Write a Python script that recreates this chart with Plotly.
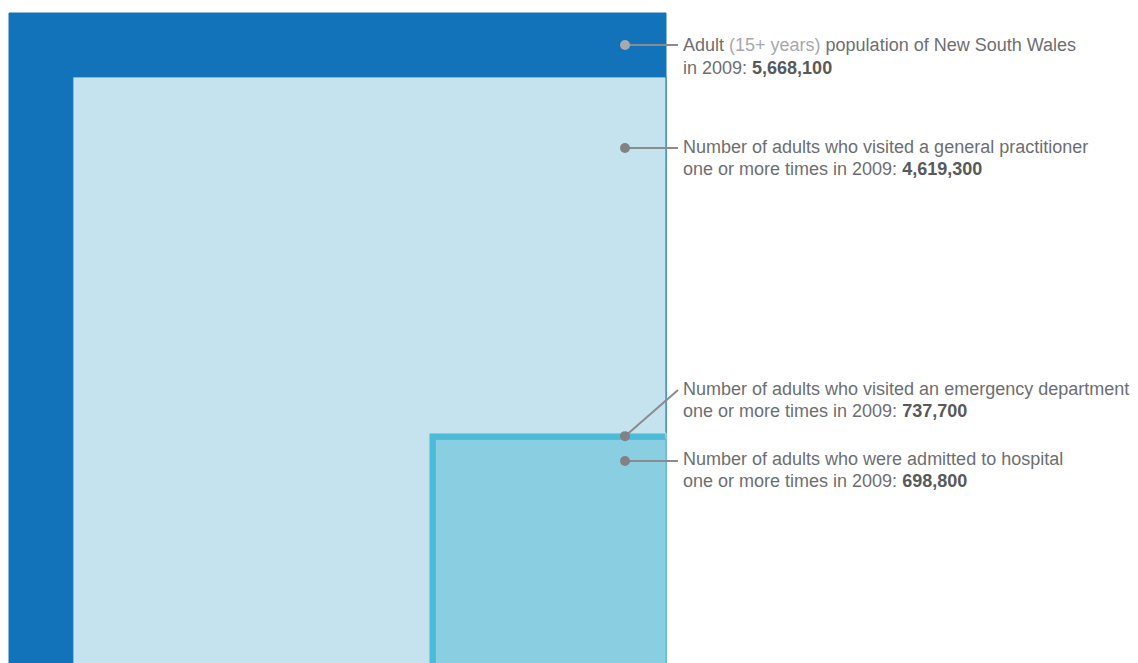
import math
import plotly.graph_objects as go

# Adult population counts, New South Wales, 2009
labels = [
    "Adult population",
    "Visited a general practitioner",
    "Visited an emergency department",
    "Admitted to hospital",
]
values = [5668100, 4619300, 737700, 698800]
fill_colors = ["#1373ba", "#c4e3ee", "#4cbbd7", "#89cfe1"]

line1 = [
    "Adult <span style='color:#a7a9ac'>(15+ years)</span> population of New South Wales",
    "Number of adults who visited a general practitioner",
    "Number of adults who visited an emergency department",
    "Number of adults who were admitted to hospital",
]
line2_prefix = ["in 2009: ", "one or more times in 2009: ",
                "one or more times in 2009: ", "one or more times in 2009: "]

W, H = 1138, 663
RIGHT_PX, BOTTOM_PX = 666, 670      # common bottom-right corner of the squares
OUTER_SIDE_PX = 657                 # side of the largest square in pixels

sides = [math.sqrt(v) for v in values]   # square area proportional to value
k = OUTER_SIDE_PX / sides[0]             # pixels per unit of side


def px_to_x(px):
    return (px - RIGHT_PX) / k


def px_to_y(py):
    return (BOTTOM_PX - py) / k


fig = go.Figure()

shapes = []
for i, (s, c) in enumerate(zip(sides, fill_colors)):
    edge = fill_colors[i - 1] if i > 0 else c
    shapes.append(dict(type="rect", xref="x", yref="y",
                       x0=-s, x1=0, y0=0, y1=s,
                       fillcolor=c, line=dict(color=edge, width=1),
                       layer="below"))

# leader dots: centred in the visible band for nested squares
dot_x = px_to_x(625)
dot_y = [
    (sides[0] + sides[1]) / 2,
    px_to_y(148),
    (sides[2] + sides[3]) / 2,
    px_to_y(461),
]
text_px_y = [(45, 68), (147, 169), (389, 411), (459, 481)]
end_y = [dot_y[0], dot_y[1], px_to_y(390), dot_y[3]]
dot_colors = ["#a7a9ac", "#808285", "#808285", "#808285"]

for i in range(len(values)):
    fig.add_trace(go.Scatter(
        x=[dot_x, px_to_x(678)], y=[dot_y[i], end_y[i]],
        mode="lines", line=dict(color="#8a8b8d", width=2),
        hoverinfo="skip", showlegend=False))
    fig.add_trace(go.Scatter(
        x=[dot_x], y=[dot_y[i]], mode="markers",
        marker=dict(size=10, color=dot_colors[i]),
        name=labels[i], showlegend=False))

annotations = []
font = dict(family="Liberation Sans, Arial, sans-serif", size=18, color="#6d6e71")
for i, v in enumerate(values):
    y1, y2 = text_px_y[i]
    annotations.append(dict(
        xref="paper", yref="paper", x=681 / W, y=1 - y1 / H,
        xanchor="left", yanchor="middle", showarrow=False,
        text=line1[i], font=font))
    annotations.append(dict(
        xref="paper", yref="paper", x=681 / W, y=1 - y2 / H,
        xanchor="left", yanchor="middle", showarrow=False,
        text=line2_prefix[i] + f"<b><span style='color:#58595b'>{v:,}</span></b>",
        font=font))

fig.update_layout(
    width=W, height=H,
    margin=dict(l=0, r=0, t=0, b=0),
    paper_bgcolor="white", plot_bgcolor="white",
    shapes=shapes, annotations=annotations,
    xaxis=dict(range=[px_to_x(0), px_to_x(W)], visible=False, fixedrange=True),
    yaxis=dict(range=[px_to_y(H), px_to_y(0)], visible=False, fixedrange=True),
    showlegend=False,
)

fig.write_html("out.html")
